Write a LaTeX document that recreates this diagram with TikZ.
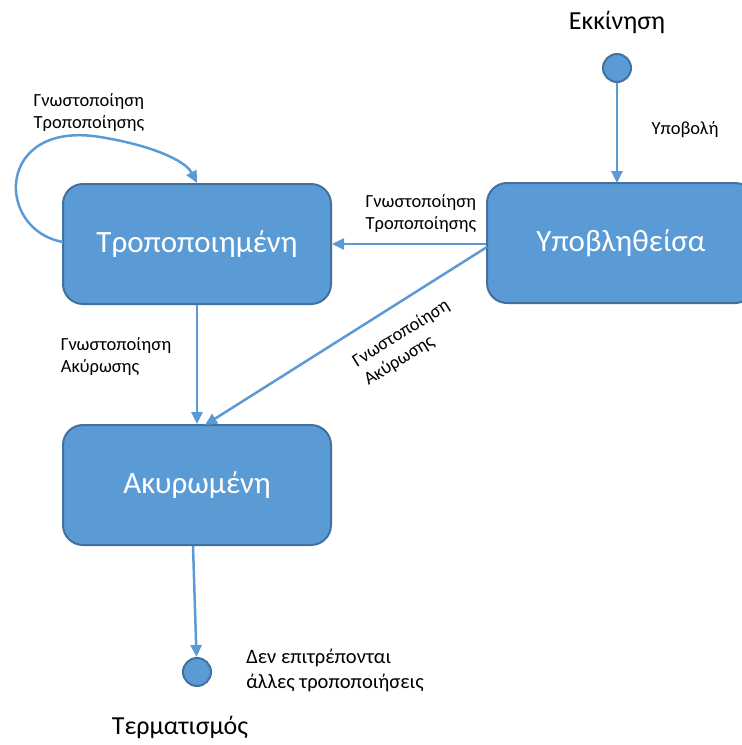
\documentclass[tikz,border=0pt]{standalone}
\usepackage{fontspec}
\setmainfont{Carlito}
\usetikzlibrary{arrows.meta}
\definecolor{fillblue}{HTML}{5B9BD5}
\definecolor{edgeblue}{HTML}{41719C}
\tikzset{
  state/.style={draw=edgeblue, fill=fillblue, line width=2pt, rounded corners=20pt,
    minimum width=268pt, minimum height=120pt, text=white, font=\fontsize{31}{36}\selectfont, inner sep=0pt},
  pseudo/.style={circle, draw=edgeblue, fill=fillblue, line width=2pt, minimum size=28pt, inner sep=0pt},
  conn/.style={draw=fillblue, line width=2.5pt, -{Triangle[length=12pt,width=11pt]}},
  lbl/.style={font=\fontsize{18.5}{22}\selectfont, align=left, inner sep=0pt},
  note/.style={font=\fontsize{20.5}{25}\selectfont, align=left, inner sep=0pt},
  big/.style={font=\fontsize{26}{30}\selectfont, inner sep=0pt}
}
\begin{document}
\begin{tikzpicture}[x=1pt,y=-1pt]
\useasboundingbox (0,0) rectangle (742,745);
\begin{scope}
\clip (0,0) rectangle (742,745);
\node[state] (mod) at (197,244) {Τροποποιημένη};
\node[state] (sub) at (621,243) {Υποβληθείσα};
\node[state] (can) at (197,485) {Ακυρωμένη};
\end{scope}
\node[pseudo] (start) at (617,68) {};
\node[pseudo] (end) at (197,672) {};
\coordinate (modtop) at (197,183);
\coordinate (subtop) at (617,183);
\coordinate (canin) at (205,425);
\coordinate (subl) at (487,247);
\coordinate (canout) at (193,546);
\coordinate (modleft) at (63,242);
\draw[conn] (start) -- (subtop);
\draw[conn] (sub.west |- 0,244) -- (mod.east |- 0,244);
\draw[conn] (subl) -- (canin);
\draw[conn] (mod.south) -- (mod.south |- can.north);
\draw[conn] (canout) -- (end);
\draw[conn] (modleft) .. controls (-5,230) and (-5,120) .. (100,137) .. controls (150,145) and (185,160) .. (modtop);
\node[big] (t1) at (617,22) {Εκκίνηση};
\node[big] (t2) at (180,727) {Τερματισμός};
\node[lbl] (l1) at (685,130) {Υποβολή};
\node[lbl] (l2) at (89,112) {Γνωστοποίηση\\Τροποποίησης};
\node[lbl] (l3) at (421,213) {Γνωστοποίηση\\Τροποποίησης};
\node[lbl, rotate=32] (l4) at (407,343) {Γνωστοποίηση\\Ακύρωσης};
\node[lbl] (l5) at (116,356) {Γνωστοποίηση\\Ακύρωσης};
\node[note] (l6) at (335,670) {Δεν επιτρέπονται\\άλλες τροποποιήσεις};
\end{tikzpicture}
\end{document}
